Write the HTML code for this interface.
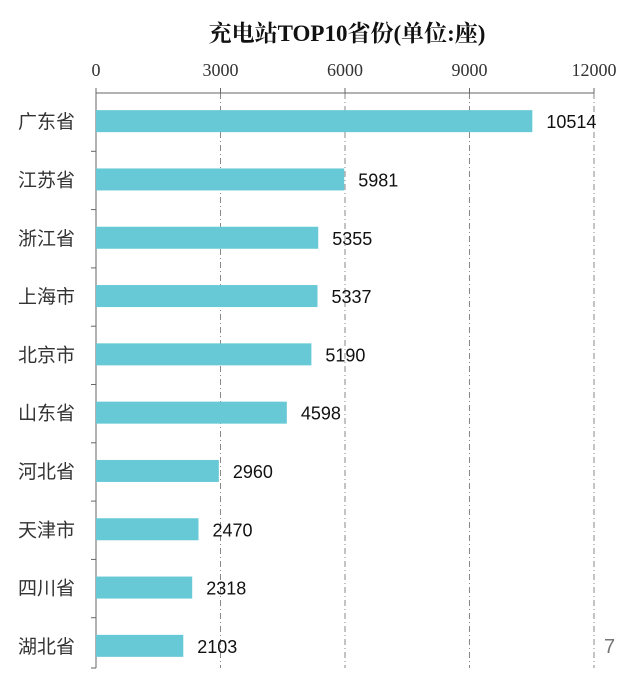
<!DOCTYPE html>
<html><head><meta charset="utf-8"><style>
body{margin:0;background:#fff;}
svg{display:block;}
</style></head><body>
<svg width="640" height="689" viewBox="0 0 640 689">
<text x="347" y="41" text-anchor="middle" font-family="'Liberation Serif','Noto Serif CJK SC',serif" font-weight="bold" font-size="23" fill="#111">充电站TOP10省份(单位:座)</text>
<g id="grid"></g>
<g id="axes"></g>
<g id="bars"></g>
<text x="604" y="653" font-family="'Liberation Sans',sans-serif" font-size="20" fill="#777">7</text>
</svg>
<script>
const categories=["广东省","江苏省","浙江省","上海市","北京市","山东省","河北省","天津市","四川省","湖北省"];
const values=[10514,5981,5355,5337,5190,4598,2960,2470,2318,2103];
const ticks=[0,3000,6000,9000,12000];
const NS="http://www.w3.org/2000/svg";
const x0=96,x1=594,maxV=12000,yTop=93,band=58.3;
const xs=v=>x0+(x1-x0)*v/maxV;
const yb=i=>yTop+band*i;
function mk(tag,attrs,parent,txt){const e=document.createElementNS(NS,tag);for(const k in attrs)e.setAttribute(k,attrs[k]);if(txt!==undefined)e.textContent=txt;document.getElementById(parent).appendChild(e);return e;}
const yBot=yb(categories.length)-8;
ticks.forEach((t,i)=>{
  if(i>0){const g=mk('line',{x1:xs(t),x2:xs(t),y1:yTop,y2:yBot,stroke:'#888','stroke-width':1,'stroke-dasharray':'6,3,1,3'},'grid');
  
  }
  const tk=mk('line',{x1:xs(t),x2:xs(t),y1:yTop-5,y2:yTop,stroke:'#666'},'axes');
  
  
  const lb=mk('text',{x:xs(t),y:76,'text-anchor':'middle','font-family':"'Liberation Serif',serif",'font-size':18,fill:'#333'},'axes',String(t));
  
  
});
const ax=mk('line',{x1:x0,x2:x1,y1:yTop,y2:yTop,stroke:'#666'},'axes');


const ay=mk('line',{x1:x0,x2:x0,y1:yTop,y2:yBot,stroke:'#666'},'axes');


for(let i=1;i<=categories.length;i++){
  const t=mk('line',{x1:x0-5,x2:x0,y1:Math.min(yb(i),yBot),y2:Math.min(yb(i),yBot),stroke:'#666'},'axes');
  
  
}
categories.forEach((c,i)=>{
  const cy=yb(i)+band/2-1;
  const r=mk('rect',{x:x0,y:cy-11,width:xs(values[i])-x0,height:22,fill:'#67c9d6'},'bars');
  
  
  const l=mk('text',{x:18,y:cy+7,'font-family':"'Liberation Sans','Noto Sans CJK SC',sans-serif",'font-size':19,fill:'#333'},'bars',c);
  
  
  const v=mk('text',{x:xs(values[i])+14,y:cy+7,'font-family':"'Liberation Sans',sans-serif",'font-size':18,fill:'#111'},'bars',String(values[i]));
  
  
});
</script>
</body></html>
